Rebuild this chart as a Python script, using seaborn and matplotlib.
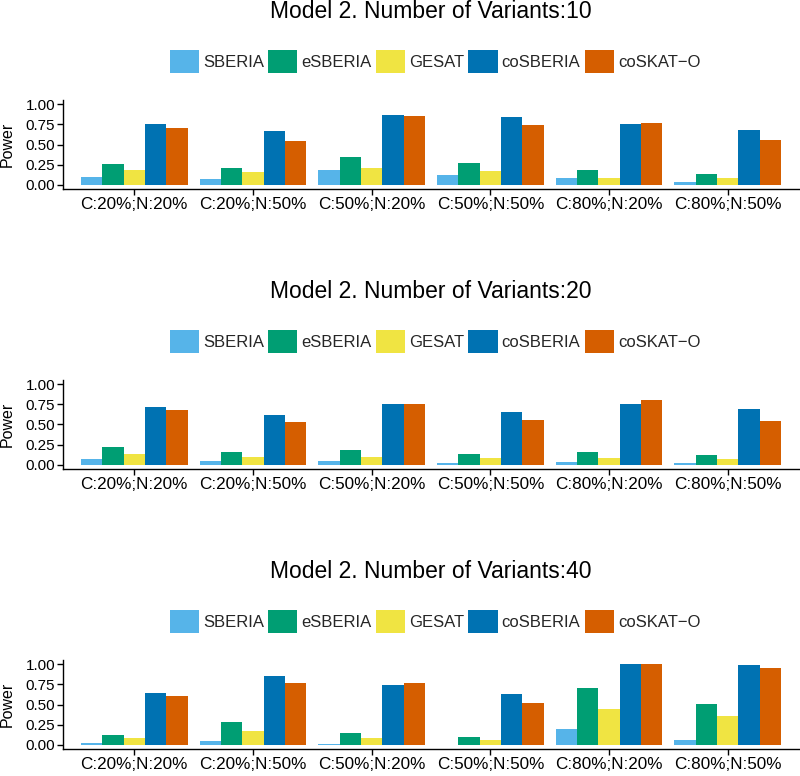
import numpy as np
import pandas as pd
import matplotlib
matplotlib.use("Agg")
import matplotlib.pyplot as plt
import seaborn as sns

scenarios = ["C:20%;N:20%", "C:20%;N:50%", "C:50%;N:20%",
             "C:50%;N:50%", "C:80%;N:20%", "C:80%;N:50%"]
methods = ["SBERIA", "eSBERIA", "GESAT", "coSBERIA", "coSKAT\u2212O"]
colors = ["#56B4E9", "#009E73", "#F0E442", "#0072B2", "#D55E00"]
titles = ["Model 2. Number of Variants:10",
          "Model 2. Number of Variants:20",
          "Model 2. Number of Variants:40"]

# power per method (rows follow scenarios)
v10_sberia   = [0.095, 0.074, 0.19, 0.12, 0.08, 0.04]
v10_esberia  = [0.26, 0.21, 0.34, 0.27, 0.18, 0.135]
v10_gesat    = [0.185, 0.156, 0.205, 0.17, 0.09, 0.08]
v10_cosberia = [0.75, 0.667, 0.86, 0.84, 0.75, 0.68]
v10_coskat   = [0.70, 0.54, 0.855, 0.745, 0.76, 0.56]

v20_sberia   = [0.074, 0.045, 0.053, 0.02, 0.037, 0.03]
v20_esberia  = [0.22, 0.16, 0.19, 0.13, 0.16, 0.123]
v20_gesat    = [0.14, 0.10, 0.10, 0.086, 0.082, 0.07]
v20_cosberia = [0.716, 0.62, 0.75, 0.654, 0.753, 0.69]
v20_coskat   = [0.68, 0.53, 0.757, 0.556, 0.80, 0.543]

v40_sberia   = [0.025, 0.05, 0.017, 0.005, 0.20, 0.066]
v40_esberia  = [0.128, 0.285, 0.153, 0.10, 0.70, 0.51]
v40_gesat    = [0.08, 0.17, 0.09, 0.062, 0.44, 0.364]
v40_cosberia = [0.645, 0.847, 0.74, 0.63, 1.0, 0.985]
v40_coskat   = [0.61, 0.76, 0.77, 0.517, 1.0, 0.955]

panels = [
    [v10_sberia, v10_esberia, v10_gesat, v10_cosberia, v10_coskat],
    [v20_sberia, v20_esberia, v20_gesat, v20_cosberia, v20_coskat],
    [v40_sberia, v40_esberia, v40_gesat, v40_cosberia, v40_coskat],
]

sns.set_theme(style="ticks")
plt.rcParams["font.family"] = ["Liberation Sans", "DejaVu Sans"]

W, H = 800, 776
fig = plt.figure(figsize=(W / 100, H / 100), dpi=100)

left_px, right_px = 63, 799
for i, (title, vals) in enumerate(zip(titles, panels)):
    off = 280 * i
    top_px, bot_px = 100 + off, 189 + off
    ax = fig.add_axes([left_px / W, 1 - bot_px / H,
                       (right_px - left_px) / W, (bot_px - top_px) / H])
    rows = []
    for m, series in zip(methods, vals):
        for s, v in zip(scenarios, series):
            rows.append({"scenario": s, "method": m, "power": v})
    df = pd.DataFrame(rows)
    sns.barplot(data=df, x="scenario", y="power", hue="method",
                order=scenarios, hue_order=methods, palette=colors,
                width=0.9, saturation=1, linewidth=0, errorbar=None, ax=ax)
    ax.set_xlim(-0.6, 5.6)
    ax.set_ylim(-0.05, 1.05)
    ax.set_yticks([0, 0.25, 0.5, 0.75, 1.0])
    ax.set_yticklabels(["0.00", "0.25", "0.50", "0.75", "1.00"])
    ax.set_xlabel("")
    ax.set_ylabel("Power", fontsize=11.5, color="black")
    ax.yaxis.set_label_coords((15 - left_px) / (right_px - left_px), 0.5)
    ax.tick_params(axis="both", colors="black", length=4, width=1, pad=1.5)
    ax.tick_params(axis="x", labelsize=12.3)
    ax.tick_params(axis="y", labelsize=11)
    for sp in ["top", "right"]:
        ax.spines[sp].set_visible(False)
    for sp in ["left", "bottom"]:
        ax.spines[sp].set_color("black")
        ax.spines[sp].set_linewidth(1.0)
    handles, labels = ax.get_legend_handles_labels()
    ax.legend(handles, labels, loc="center", ncol=5, frameon=False,
              bbox_to_anchor=((435 - left_px) / (right_px - left_px),
                              1 + (top_px - (61.5 + off)) / (bot_px - top_px)),
              fontsize=12, handlelength=1.75, handleheight=1.75,
              handletextpad=0.25, columnspacing=0.25, borderpad=0)
    fig.text((left_px + right_px) / 2 / W, 1 - (18 + off) / H, title,
             ha="center", va="baseline", fontsize=16.5, color="black")

fig.savefig("out.png", dpi=100)
